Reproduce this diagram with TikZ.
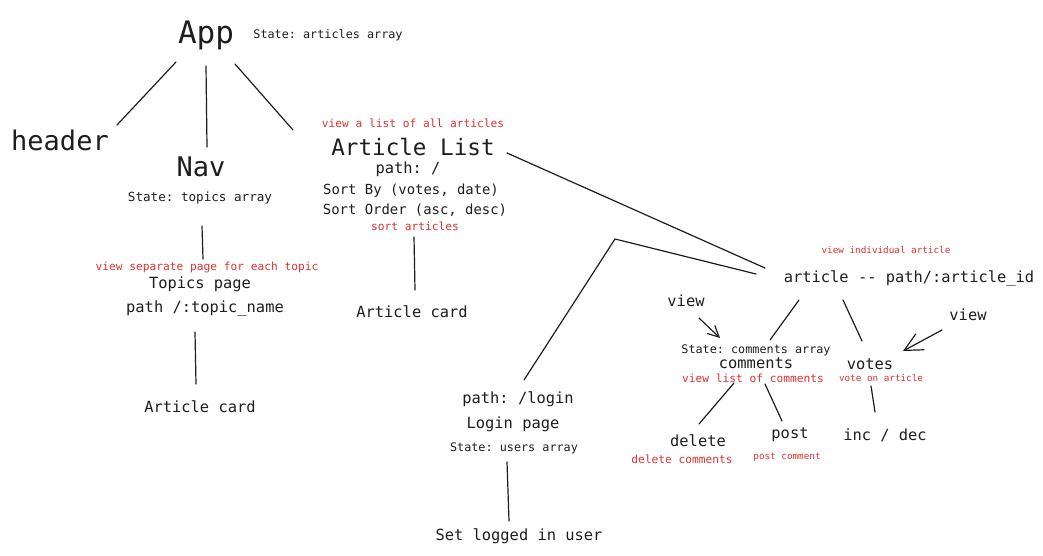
\documentclass[tikz,border=0pt]{standalone}
\usepackage{fontspec}
\setmonofont{DejaVu Sans Mono}
\usepackage{xcolor}
\usetikzlibrary{arrows.meta}

\definecolor{ink}{HTML}{1E1E1E}
\definecolor{exred}{HTML}{E03131}

\begin{document}
\begin{tikzpicture}[
  x=1pt,y=-1pt,
  every node/.style={inner sep=0pt,anchor=base,text=ink},
  big/.style={font=\ttfamily\fontsize{31}{36}\selectfont},
  hdr/.style={font=\ttfamily\fontsize{27}{32}\selectfont},
  ttl/.style={font=\ttfamily\fontsize{22.6}{27}\selectfont},
  lbl/.style={font=\ttfamily\fontsize{15.4}{18}\selectfont},
  srt/.style={font=\ttfamily\fontsize{13.9}{16}\selectfont},
  st/.style={font=\ttfamily\fontsize{11.8}{14}\selectfont},
  note/.style={font=\ttfamily\fontsize{11.2}{13}\selectfont,text=exred},
  tiny/.style={font=\ttfamily\fontsize{9.3}{11}\selectfont,text=exred},
  link/.style={draw=ink,line width=1.2pt,line cap=round},
  view/.style={link,-{Straight Barb[length=#1,width=#1,line width=1.2pt]}}
]
\fill[white] (0,0) rectangle (1043,555);
\useasboundingbox (0,0) rectangle (1043,555);

%% App and its children
\node[big] (app)   at (206,43)  {App};
\node[st]  (appst) at (328,38)  {State: articles array};
\node[hdr] (header) at (60,150) {header};
\node[hdr] (nav)   at (201,176) {Nav};
\node[st,font=\ttfamily\fontsize{12.6}{15}\selectfont] (navst) at (200,201) {State: topics array};

%% Article list column
\node[note] (alnote)  at (413,127) {view a list of all articles};
\node[ttl]  (alist)   at (413,155) {Article List};
\node[lbl]  (alpath)  at (408,173) {path: /};
\node[srt]  (sortby)  at (411,194) {Sort By (votes, date)};
\node[srt]  (sortord) at (415,214) {Sort Order (asc, desc)};
\node[note] (sortnote) at (415,230) {sort articles};
\node[lbl]  (alcard)  at (412,317) {Article card};

%% Topics column
\node[note] (tpnote) at (207,270) {view separate page for each topic};
\node[lbl]  (topics) at (200,288) {Topics page};
\node[lbl]  (tppath) at (205,312) {path /:topic\_name};
\node[lbl]  (tpcard) at (200,412) {Article card};

%% Login column
\node[lbl] (lgpath)  at (518,403) {path: /login};
\node[lbl] (login)   at (513,428) {Login page};
\node[st]  (lgst)    at (514,451) {State: users array};
\node[lbl] (setuser) at (519,540) {Set logged in user};

%% Single article
\node[tiny] (arnote)  at (886,253) {view individual article};
\node[lbl]  (article) at (909,282) {article -{}- path/:article\_id};
\node[lbl]  (viewc)   at (686,306) {view};
\node[lbl]  (viewv)   at (968,320) {view};
\node[st]   (cmst)    at (756,353) {State: comments array};
\node[lbl]  (comments) at (756,368) {comments};
\node[note] (cmnote)  at (753,382) {view list of comments};
\node[lbl]  (votes)   at (870,369) {votes};
\node[tiny] (vtnote)  at (881,381) {vote on article};
\node[lbl]  (delete)  at (698,446) {delete};
\node[note] (delnote) at (682,463) {delete comments};
\node[lbl]  (post)    at (790,438) {post};
\node[tiny] (postnote) at (787,459) {post comment};
\node[lbl]  (incdec)  at (885,440) {inc / dec};

%% line ends
\coordinate (app-h) at (176,62);  \coordinate (hdr-a) at (117,125);
\coordinate (app-n) at (206,66);  \coordinate (nav-a) at (207,147);
\coordinate (app-l) at (235,64);  \coordinate (al-a)  at (293,130);
\coordinate (nav-t) at (202,226); \coordinate (tp-n)  at (203,259);
\coordinate (tp-c)  at (195,332); \coordinate (tpc-t) at (196,384);
\coordinate (al-c)  at (414,237); \coordinate (alc-a) at (415,290);
\coordinate (al-r)  at (507,153); \coordinate (ar-al) at (765,268);
\coordinate (lg-up) at (524,380); \coordinate (bend)  at (615,239);
\coordinate (ar-lg) at (756,274);
\coordinate (lg-s)  at (507,462); \coordinate (su-lg) at (509,521);
\coordinate (ar-c)  at (799,300); \coordinate (cm-ar) at (770,340);
\coordinate (ar-v)  at (843,300); \coordinate (vt-ar) at (862,341);
\coordinate (vc-s)  at (699,318); \coordinate (cm-vc) at (720,338);
\coordinate (vv-s)  at (942,330); \coordinate (vt-vv) at (903,351);
\coordinate (cm-d)  at (734,383); \coordinate (del-c) at (699,424);
\coordinate (cm-p)  at (765,384); \coordinate (pst-c) at (782,421);
\coordinate (vt-i)  at (871,386); \coordinate (inc-v) at (875,412);

%% connectors
\draw[link] (app-h) -- (hdr-a);
\draw[link] (app-n) -- (nav-a);
\draw[link] (app-l) -- (al-a);
\draw[link] (nav-t) -- (tp-n);
\draw[link] (tp-c)  -- (tpc-t);
\draw[link] (al-c)  -- (alc-a);
\draw[link] (al-r)  -- (ar-al);
\draw[link] (lg-up) -- (bend) -- (ar-lg);
\draw[link] (lg-s)  -- (su-lg);
\draw[link] (ar-c)  -- (cm-ar);
\draw[link] (ar-v)  -- (vt-ar);
\draw[view=11pt] (vc-s) -- (cm-vc);
\draw[view=18pt] (vv-s) -- (vt-vv);
\draw[link] (cm-d)  -- (del-c);
\draw[link] (cm-p)  -- (pst-c);
\draw[link] (vt-i)  -- (inc-v);

\end{tikzpicture}
\end{document}
